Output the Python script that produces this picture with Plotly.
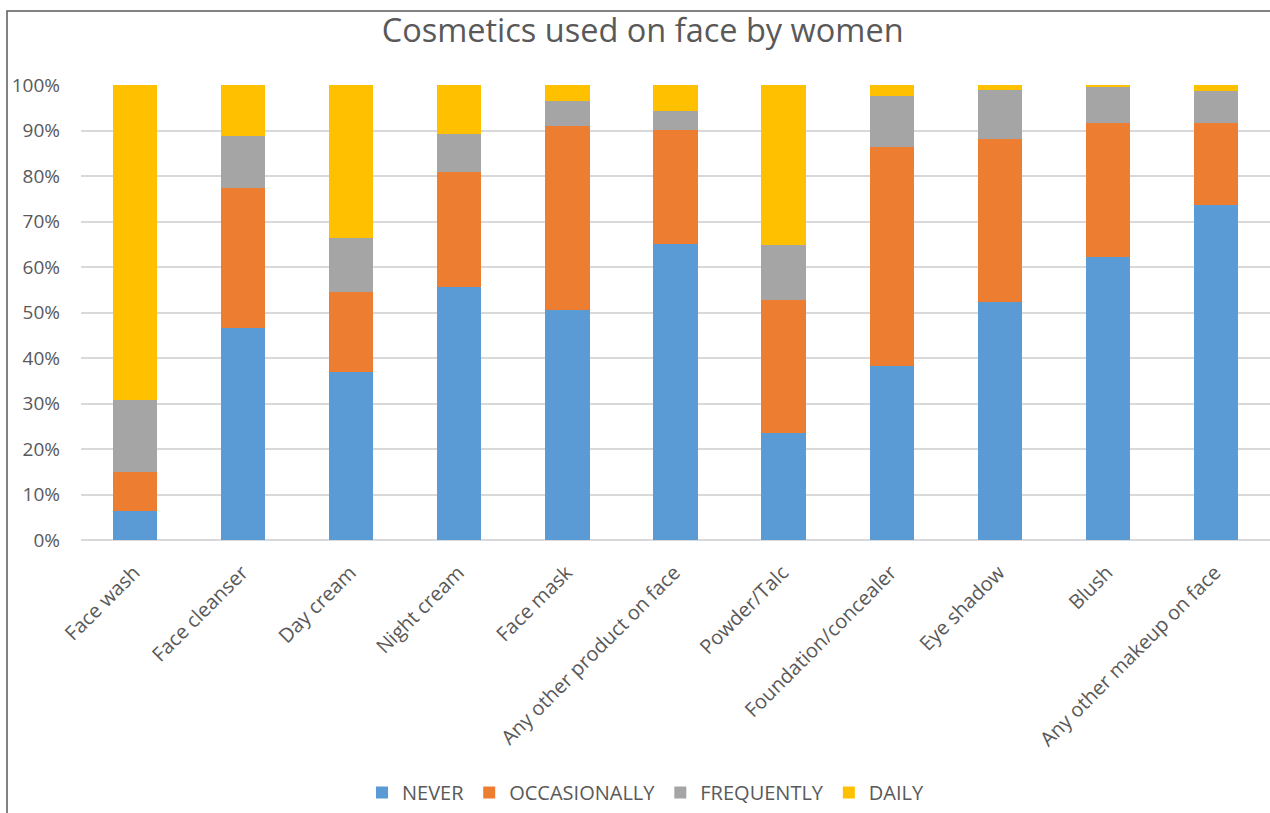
import plotly.graph_objects as go

categories = ["Face wash", "Face cleanser", "Day cream", "Night cream", "Face mask",
              "Any other product on face", "Powder/Talc", "Foundation/concealer",
              "Eye shadow", "Blush", "Any other makeup on face"]

never = [6.3, 46.6, 36.9, 55.6, 50.5, 65.0, 23.6, 38.3, 52.2, 62.1, 73.7]
occasionally = [8.6, 30.8, 17.6, 25.2, 40.4, 25.2, 29.2, 48.1, 36.0, 29.5, 17.9]
frequently = [15.8, 11.3, 11.8, 8.5, 5.6, 4.1, 12.1, 11.1, 10.6, 7.9, 7.0]
daily = [69.3, 11.3, 33.7, 10.7, 3.5, 5.7, 35.1, 2.5, 1.2, 0.5, 1.4]

series = [
    ("NEVER", never, "#5B9BD5"),
    ("OCCASIONALLY", occasionally, "#ED7D31"),
    ("FREQUENTLY", frequently, "#A5A5A5"),
    ("DAILY", daily, "#FFC000"),
]

font_family = "Open Sans, Liberation Sans, sans-serif"
text_gray = "#595959"

fig = go.Figure()
for name, vals, color in series:
    fig.add_trace(go.Bar(
        x=categories, y=[v / 100 for v in vals], name=name,
        marker=dict(color=color, line=dict(width=0)),
    ))

plot_w, plot_h = 1189, 455

fig.update_layout(
    barmode="stack",
    bargap=0.59,
    width=1270, height=813,
    margin=dict(l=81, r=0, t=85, b=273),
    paper_bgcolor="white",
    plot_bgcolor="white",
    font=dict(family=font_family, color=text_gray, size=16),
    title=dict(
        text="Cosmetics used on face by women",
        x=0.506, xanchor="center", y=0.962, yanchor="middle",
        font=dict(size=32.5, color=text_gray, family=font_family),
    ),
    xaxis=dict(
        tickangle=-45,
        tickfont=dict(size=20, color=text_gray),
        showgrid=False,
        showline=False,
        ticks="",
        ticklabelstandoff=16,
        ticklabelshift=-1,
        automargin=False,
    ),
    yaxis=dict(
        range=[0, 1],
        tickvals=[i / 10 for i in range(11)],
        ticktext=[f"{i * 10}%" for i in range(11)],
        tickfont=dict(size=19, color=text_gray),
        gridcolor="#D9D9D9",
        gridwidth=1.5,
        zeroline=True,
        zerolinecolor="#D9D9D9",
        zerolinewidth=1.5,
        showline=False,
        ticks="",
        ticklabelstandoff=20,
        automargin=False,
    ),
    legend=dict(
        orientation="h",
        x=(646 - 81) / plot_w, xanchor="center",
        y=-272 / plot_h, yanchor="bottom",
        font=dict(size=20, color=text_gray),
        traceorder="normal",
        itemwidth=30,
    ),
    shapes=[dict(
        type="rect", xref="paper", yref="paper",
        x0=-74 / plot_w, x1=1.01, y0=-0.7, y1=1 + 74 / plot_h,
        line=dict(color="#595959", width=1.5),
        fillcolor="rgba(0,0,0,0)",
    )],
)

fig.write_html("out.html")
